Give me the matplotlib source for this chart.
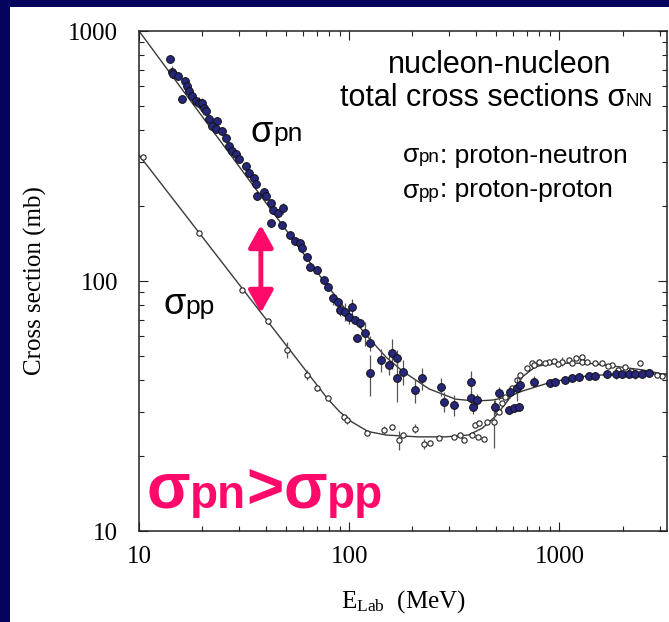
import matplotlib
matplotlib.use('Agg')

import matplotlib.pyplot as plt
from matplotlib.patches import Rectangle, FancyArrowPatch
from matplotlib.offsetbox import TextArea, HPacker, AnchoredOffsetbox
from matplotlib.ticker import LogLocator, NullFormatter

# proton-neutron total cross section: lab energy (MeV), sigma (mb), error (mb)
pn_E = [14.1, 14.3, 14.5, 15.3, 16.6, 17.0, 16.0, 17.3, 17.9, 18.6,
        19.3, 20.0, 20.4, 20.8, 21.5, 23.6, 22.3, 23.2, 24.9, 25.9,
        26.8, 27.8, 28.8, 29.9, 32.2, 33.4, 35.3, 36.0, 36.6, 39.4,
        40.1, 42.4, 43.6, 46.0, 48.3, 42.4, 47.9, 52.4, 55.3, 58.5,
        59.6, 62.9, 65.2, 70.2, 75.5, 79.7, 84.1, 88.9, 90.6, 95.7,
        103, 99.3, 107, 113, 119, 109, 126, 126, 141, 154,
        160, 169, 169, 181, 206, 222, 274, 281, 314, 381,
        381, 406, 388, 495, 514, 585, 629, 652, 574, 606,
        640, 755, 906, 957, 1069, 1149, 1236, 1380, 1483, 1687,
        1849, 1990, 2138, 2301, 2477, 2663]
pn_sig = [770, 687, 674, 661, 631, 603, 533, 575, 550, 525,
          517, 517, 493, 479, 443, 437, 417, 404, 398, 374,
          347, 331, 321, 307, 288, 271, 259, 244, 219, 226,
          219, 206, 192, 187, 195, 170, 167, 153, 144, 142,
          135, 125, 114, 111, 101, 94.9, 85.3, 82.6, 76.6, 75.4,
          78.9, 72.0, 69.8, 67.7, 61.8, 59.0, 56.3, 42.7, 48.3, 46.1,
          51.4, 49.1, 40.8, 43.4, 36.6, 40.8, 37.8, 32.9, 31.9, 39.6,
          33.9, 33.4, 31.4, 31.4, 35.5, 36.1, 37.2, 38.4, 30.5, 31.0,
          31.4, 39.6, 39.0, 39.6, 40.2, 40.8, 41.4, 41.7, 41.7, 42.5,
          42.5, 42.5, 42.5, 42.5, 42.5, 42.7]
pn_err = [0, 40, 0, 0, 20, 30, 0, 25, 0, 0,
          30, 25, 20, 0, 0, 0, 0, 0, 0, 0,
          0, 0, 0, 0, 0, 0, 0, 0, 0, 0,
          0, 0, 0, 0, 10, 0, 0, 0, 0, 0,
          0, 0, 0, 0, 0, 0, 5, 0, 4, 6,
          6, 5, 0, 3, 7, 0, 4, 8, 5, 4,
          7, 4, 8, 5, 4, 4, 3, 3, 3, 4,
          2, 2, 2, 2, 2, 2, 4, 2, 1, 1,
          1, 2, 0, 1, 0, 1, 0, 0, 0, 1,
          2, 0, 1, 2, 0, 1]

# proton-proton total cross section
pp_E = [10.4, 19.4, 31.0, 41.0, 50.5, 63.2, 70.6, 78.9, 94.0, 97.5,
        121, 146, 160, 172, 181, 206, 228, 243, 266, 314,
        338, 350, 384, 410, 436, 398, 413, 453, 487, 514,
        533, 553, 595, 629, 652, 702, 741, 797, 889, 1030,
        1107, 1282, 1282, 1483, 1782, 2061, 2430, 2663, 3083, 760,
        850, 940, 990, 1150, 1200, 1350, 1600, 1700, 1900, 2200,
        2500, 2900]
pp_sig = [312, 155, 92.0, 69.4, 53.0, 42.1, 37.2, 34.0, 28.7, 27.8,
          24.6, 25.4, 26.1, 23.1, 24.2, 25.7, 22.3, 22.4, 23.5, 23.8,
          24.2, 23.1, 24.2, 23.8, 23.3, 26.5, 27.0, 27.4, 27.4, 30.0,
          32.4, 34.5, 37.2, 40.2, 42.1, 44.7, 46.9, 47.6, 47.6, 47.6,
          48.3, 49.5, 47.6, 46.9, 46.1, 45.4, 47.1, 43.4, 41.7, 46.0,
          47.0, 48.0, 46.5, 47.0, 49.0, 47.5, 47.0, 45.5, 44.0, 43.5,
          43.0, 42.0]
pp_err = [0, 0, 0, 0, 4, 2, 1, 0, 0, 1,
          0, 1, 0, 2, 0, 1, 1, 0, 0, 0,
          0, 0, 0, 0, 0, 0, 0, 0, 6, 0,
          0, 0, 0, 0, 0, 0, 0, 1, 0, 2,
          0, 1, 0, 0, 0, 0, 0, 0, 0, 0,
          0, 0, 0, 1, 0, 0, 0, 0, 0, 0,
          0, 0]

# smooth fits through both data sets
pn_fit_E = [10, 75, 95, 120, 150, 180, 240, 320, 400, 480, 571, 667,
            887, 1192, 1603, 3250]
pn_fit_sig = [1000, 101, 78, 61, 49.5, 43.5, 37, 33.7, 33.1, 33.4, 34.4,
              36.3, 39.1, 41.3, 42.1, 42.5]
pp_fit_E = [10, 78.5, 90, 103, 123, 150, 213, 287, 369, 430, 495, 571,
            667, 769, 887, 1033, 1374, 1910, 2484, 3250]
pp_fit_sig = [319, 34.0, 30.0, 27.3, 25.0, 24.2, 23.8, 23.8, 24.2, 25.8,
              28.7, 33.4, 41.4, 45.4, 46.6, 46.9, 46.9, 45.4, 44.1, 42.1]

x_ticks = [10, 100, 1000]
x_ticklabels = ['10', '100', '1000']
y_ticks = [10, 100, 1000]
y_ticklabels = ['10', '100', '1000']

# double arrow marking the pn / pp gap
arrow_E = 38
arrow_sig = [167.5, 74.5]

navy = '#04045e'
pink = '#ff0a6a'

plt.rcParams['font.family'] = 'Liberation Serif'
plt.rcParams['mathtext.fontset'] = 'custom'
plt.rcParams['mathtext.rm'] = 'Liberation Serif'
plt.rcParams['mathtext.it'] = 'Liberation Serif:italic'

fig = plt.figure(figsize=(6.69, 6.22), dpi=100)
fig.patch.set_facecolor(navy)
fig.add_artist(Rectangle((10 / 669, 0), 1 - 10 / 669, 615 / 622,
                         transform=fig.transFigure, facecolor='white',
                         edgecolor='none', zorder=-1))

ax = fig.add_axes([139 / 669, 91 / 622, 528 / 669, 500 / 622])
ax.set_xscale('log')
ax.set_yscale('log')
ax.set_xlim(10, 3250)
ax.set_ylim(10, 1000)

ax.plot(pn_fit_E, pn_fit_sig, color='#3a3a3a', lw=1.0, zorder=2)
ax.plot(pp_fit_E, pp_fit_sig, color='#3a3a3a', lw=1.0, zorder=2)

ax.errorbar(pp_E, pp_sig, yerr=pp_err, fmt='o', ms=3.8, mfc='white',
            mec='#222222', mew=0.8, ecolor='#555555', elinewidth=0.9,
            capsize=0, zorder=3)
ax.errorbar(pn_E, pn_sig, yerr=pn_err, fmt='o', ms=5.6, mfc='#26267a',
            mec='#111111', mew=0.7, ecolor='#555555', elinewidth=0.9,
            capsize=0, zorder=4)

ax.add_patch(FancyArrowPatch((arrow_E, arrow_sig[0]), (arrow_E, arrow_sig[1]),
                             arrowstyle='<|-|>,head_length=0.9,head_width=0.5',
                             mutation_scale=15, lw=3.5, color=pink,
                             shrinkA=0, shrinkB=0, zorder=5))

ax.set_xticks(x_ticks)
ax.set_xticklabels(x_ticklabels)
ax.set_yticks(y_ticks)
ax.set_yticklabels(y_ticklabels)
ax.xaxis.set_minor_locator(LogLocator(base=10, subs=range(2, 10)))
ax.yaxis.set_minor_locator(LogLocator(base=10, subs=range(2, 10)))
ax.xaxis.set_minor_formatter(NullFormatter())
ax.yaxis.set_minor_formatter(NullFormatter())
ax.tick_params(which='both', direction='in', top=True, right=True,
               width=0.8, color='#222222', labelsize=18)
ax.tick_params(which='major', length=6.5)
ax.tick_params(which='minor', length=3.3)
ax.tick_params(axis='y', which='major', pad=15)
ax.tick_params(axis='x', which='major', pad=11)
for s in ax.spines.values():
    s.set_linewidth(1.1)
    s.set_color('#222222')

ax.set_xlabel(r'E$_{\mathrm{Lab}}$  (MeV)', fontsize=18, labelpad=14)
ax.set_ylabel('Cross section (mb)', fontsize=18, labelpad=15)


def put_label(parts, x, y, family='Liberation Sans', color='black', weight='normal'):
    # glue text pieces of different sizes on a common baseline
    boxes = [TextArea(t, textprops=dict(size=s, family=family, color=color,
                                        weight=weight))
             for t, s in parts]
    row = HPacker(children=boxes, align='baseline', pad=0, sep=0)
    box = AnchoredOffsetbox(loc='lower left', child=row, pad=0, borderpad=0,
                            frameon=False, bbox_to_anchor=(x, y),
                            bbox_transform=ax.transAxes)
    box.set_zorder(6)
    ax.add_artist(box)


ax.text(0.684, 0.916, 'nucleon-nucleon', transform=ax.transAxes,
        ha='center', va='baseline', fontsize=22, family='Liberation Sans')
put_label([('total cross sections σ', 22), ('NN', 13.5)], 0.38, 0.835)
put_label([('σ', 19), ('pn', 13.5), (': proton-neutron', 19)], 0.5, 0.727)
put_label([('σ', 19), ('pp', 13.5), (': proton-proton', 19)], 0.5, 0.657)

put_label([('σ', 26), ('pn', 19)], 0.212, 0.763)
put_label([('σ', 26), ('pp', 19)], 0.0455, 0.4186)

put_label([('σ', 46), ('pn', 33), ('>', 46), ('σ', 46), ('pp', 33)],
          0.014, 0.02, color=pink, weight='bold')

fig.savefig('out.png', dpi=100, facecolor=fig.get_facecolor())
